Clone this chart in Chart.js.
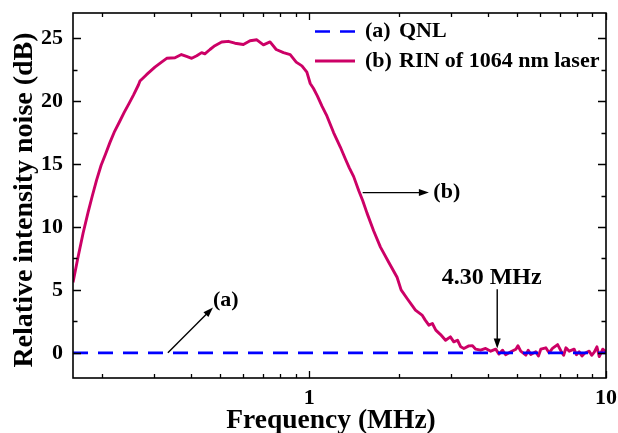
<!DOCTYPE html>
<html>
<head>
<meta charset="utf-8">
<script src="https://cdn.jsdelivr.net/npm/chart.js@4/dist/chart.umd.min.js"></script>
<style>
  html, body { margin: 0; padding: 0; background: #ffffff; }
  #wrap { width: 618px; height: 433px; }
</style>
</head>
<body>
<div id="wrap"><canvas id="c" width="618" height="433"></canvas></div>
<script>
// Measured relative intensity noise of the 1064 nm laser
const freqMHz = [
  0.160, 0.166, 0.173, 0.180, 0.186, 0.192, 0.199, 0.206, 0.213, 0.221,
  0.230, 0.238, 0.247, 0.256, 0.266, 0.269, 0.283, 0.302, 0.318, 0.331,
  0.353, 0.371, 0.386, 0.402, 0.418, 0.434, 0.445, 0.463, 0.481, 0.507,
  0.534, 0.562, 0.600, 0.632, 0.666, 0.701, 0.738, 0.774, 0.819, 0.863,
  0.904, 0.945, 0.982, 1.008, 1.034, 1.066, 1.104, 1.148, 1.208, 1.273,
  1.324, 1.365, 1.412, 1.468, 1.514, 1.566, 1.648, 1.738, 1.853, 1.977,
  2.040, 2.140, 2.280, 2.400, 2.460, 2.530, 2.600, 2.670, 2.770, 2.880,
  2.990, 3.070, 3.160, 3.240, 3.320, 3.450, 3.550, 3.640, 3.780, 3.930,
  4.090, 4.250, 4.360, 4.480, 4.590, 4.780, 4.970, 5.050, 5.160, 5.370,
  5.470, 5.580, 5.800, 5.920, 6.030, 6.270, 6.430, 6.600, 6.870, 7.050,
  7.200, 7.330, 7.520, 7.810, 7.950, 8.120, 8.300, 8.450, 8.780, 8.950,
  9.130, 9.320, 9.490, 9.750, 10.00
];
const rinDb = [
  5.6, 7.5, 9.5, 11.2, 12.5, 13.7, 14.9, 15.8, 16.7, 17.6,
  18.4, 19.1, 19.8, 20.5, 21.3, 21.6, 22.1, 22.7, 23.1, 23.4,
  23.45, 23.7, 23.55, 23.4, 23.6, 23.85, 23.75, 24.1, 24.4, 24.7,
  24.75, 24.6, 24.5, 24.8, 24.87, 24.47, 24.7, 24.1, 23.85, 23.7,
  23.1, 22.8, 22.3, 21.4, 21.0, 20.4, 19.6, 18.8, 17.5, 16.35,
  15.4, 14.7, 14.0, 12.9, 12.1, 11.1, 9.7, 8.4, 7.2, 6.0,
  5.0, 4.3, 3.4, 3.0, 2.6, 2.2, 2.33, 1.8, 1.45, 1.0,
  1.27, 0.87, 1.0, 0.48, 0.35, 0.55, 0.56, 0.29, 0.21, 0.35,
  0.13, 0.29, -0.1, 0.21, -0.15, 0.08, 0.29, 0.56, 0.13, -0.18,
  0.21, -0.13, 0.08, -0.25, 0.29, 0.4, 0.0, 0.35, 0.65, 0.15,
  -0.2, 0.4, 0.13, 0.29, -0.15, 0.08, -0.25, -0.05, 0.13, -0.2,
  0.05, 0.48, -0.3, 0.29, 0.08
];

// Quantum noise limit reference
const qnlFreq = [0.16, 10];
const qnlDb = [0, 0];

// Axis ticks
const xTickValues = [1, 10];
const xMinorValues = [0.2, 0.3, 0.4, 0.5, 0.6, 0.7, 0.8, 0.9, 2, 3, 4, 5, 6, 7, 8, 9];
const yTickValues = [0, 5, 10, 15, 20, 25];
const yMinorValues = [2.5, 7.5, 12.5, 17.5, 22.5];

const seriesLabels = ['(a)', '(b)'];
const seriesNames = ['QNL', 'RIN of 1064 nm laser'];

// Callouts, in data units (MHz, dB)
const calloutA = { text: '(a)', from: [0.334, 0], to: [0.474, 3.6], at: [0.474, 4.2] };
const calloutB = { text: '(b)', from: [1.514, 12.73], to: [2.53, 12.73], at: [2.62, 12.73] };
const calloutF = { text: '4.30 MHz', from: [4.30, 5.05], to: [4.30, 0.35], at: [4.12, 5.93] };

const SERIF = "'Liberation Serif', 'Times New Roman', serif";
const BLUE = '#0000ff';
const MAGENTA = '#cc0066';

Chart.defaults.font.family = SERIF;
Chart.defaults.font.weight = 'bold';
Chart.defaults.color = '#000000';

function drawArrow(ctx, x1, y1, x2, y2) {
  const ang = Math.atan2(y2 - y1, x2 - x1);
  const len = 10, half = 3.5;
  ctx.beginPath();
  ctx.moveTo(x1, y1);
  ctx.lineTo(x2 - Math.cos(ang) * len * 0.8, y2 - Math.sin(ang) * len * 0.8);
  ctx.stroke();
  ctx.beginPath();
  ctx.moveTo(x2, y2);
  ctx.lineTo(x2 - Math.cos(ang) * len - Math.sin(ang) * half, y2 - Math.sin(ang) * len + Math.cos(ang) * half);
  ctx.lineTo(x2 - Math.cos(ang) * len + Math.sin(ang) * half, y2 - Math.sin(ang) * len - Math.cos(ang) * half);
  ctx.closePath();
  ctx.fill();
}

function noScalePadding(s) {
  s.paddingTop = 0; s.paddingBottom = 0; s.paddingLeft = 0; s.paddingRight = 0;
}

const framePlugin = {
  id: 'frame',
  afterDatasetsDraw(chart) {
    const { ctx, chartArea: a, scales: { x, y } } = chart;
    ctx.save();
    ctx.strokeStyle = '#000';
    ctx.fillStyle = '#000';
    ctx.lineWidth = 1.6;
    ctx.strokeRect(a.left, a.top, a.right - a.left, a.bottom - a.top);

    // inward ticks on all four sides
    ctx.lineWidth = 1.3;
    ctx.beginPath();
    const yt = (vals, len) => vals.forEach(v => {
      const py = Math.round(y.getPixelForValue(v)) + 0.5;
      ctx.moveTo(a.left, py); ctx.lineTo(a.left + len, py);
      ctx.moveTo(a.right, py); ctx.lineTo(a.right - len, py);
    });
    const xt = (vals, len) => vals.forEach(v => {
      const px = Math.round(x.getPixelForValue(v)) + 0.5;
      ctx.moveTo(px, a.bottom); ctx.lineTo(px, a.bottom - len);
      ctx.moveTo(px, a.top); ctx.lineTo(px, a.top + len);
    });
    yt(yTickValues, 8); yt(yMinorValues, 4.5);
    xt(xTickValues, 7); xt(xMinorValues, 4);
    ctx.stroke();

    // callouts
    ctx.lineWidth = 1.4;
    ctx.font = 'bold 22px ' + SERIF;
    ctx.textBaseline = 'middle';
    [calloutA, calloutB].forEach(c => {
      drawArrow(ctx, x.getPixelForValue(c.from[0]), y.getPixelForValue(c.from[1]),
        x.getPixelForValue(c.to[0]), y.getPixelForValue(c.to[1]));
      ctx.textAlign = 'left';
      ctx.fillText(c.text, x.getPixelForValue(c.at[0]), y.getPixelForValue(c.at[1]));
    });
    drawArrow(ctx, x.getPixelForValue(calloutF.from[0]), y.getPixelForValue(calloutF.from[1]),
      x.getPixelForValue(calloutF.to[0]), y.getPixelForValue(calloutF.to[1]));
    ctx.textAlign = 'center';
    ctx.font = 'bold 24px ' + SERIF;
    ctx.fillText(calloutF.text, x.getPixelForValue(calloutF.at[0]), y.getPixelForValue(calloutF.at[1]));

    // legend
    ctx.font = 'bold 22px ' + SERIF;
    const ds = chart.data.datasets;
    const rows = [31.5, 61];
    ds.forEach((d, i) => {
      ctx.save();
      ctx.strokeStyle = d.borderColor;
      ctx.lineWidth = d.borderWidth;
      ctx.setLineDash(d.borderDash || []);
      ctx.beginPath();
      ctx.moveTo(315, rows[i]); ctx.lineTo(355, rows[i]);
      ctx.stroke();
      ctx.restore();
      ctx.textAlign = 'left';
      ctx.fillText(seriesLabels[i], 365, rows[i]);
      ctx.fillText(seriesNames[i], 399, rows[i]);
    });

    // axis titles
    ctx.textBaseline = 'alphabetic';
    ctx.textAlign = 'center';
    ctx.font = 'bold 27.5px ' + SERIF;
    ctx.fillText('Frequency (MHz)', 331, 428);
    ctx.save();
    ctx.translate(32, 200);
    ctx.rotate(-Math.PI / 2);
    ctx.font = 'bold 28px ' + SERIF;
    ctx.fillText('Relative intensity noise (dB)', 0, 0);
    ctx.restore();
    ctx.restore();
  }
};

new Chart(document.getElementById('c'), {
  type: 'line',
  data: {
    datasets: [
      {
        label: seriesLabels[0] + ' ' + seriesNames[0],
        data: qnlFreq.map((f, i) => ({ x: f, y: qnlDb[i] })),
        borderColor: BLUE,
        borderWidth: 2.7,
        borderDash: [15, 10],
        pointRadius: 0,
        tension: 0
      },
      {
        label: seriesLabels[1] + ' ' + seriesNames[1],
        data: freqMHz.map((f, i) => ({ x: f, y: rinDb[i] })),
        borderColor: MAGENTA,
        borderWidth: 2.9,
        pointRadius: 0,
        tension: 0,
        borderJoinStyle: 'round'
      }
    ]
  },
  options: {
    responsive: false,
    animation: false,
    devicePixelRatio: 1,
    layout: { padding: { top: 13, right: 12, left: 0, bottom: 0 } },
    plugins: { legend: { display: false }, tooltip: { enabled: false } },
    scales: {
      x: {
        type: 'logarithmic',
        min: 0.16,
        max: 10,
        grid: { display: false, drawTicks: false },
        border: { display: false },
        afterBuildTicks: s => { s.ticks = xTickValues.map(v => ({ value: v })); },
        afterFit: s => { s.height = 55; noScalePadding(s); },
        ticks: {
          autoSkip: false, maxRotation: 0, padding: 7,
          font: { size: 22, weight: 'bold' },
          callback: v => String(v)
        }
      },
      y: {
        type: 'linear',
        min: -2,
        max: 27,
        grid: { display: false, drawTicks: false },
        border: { display: false },
        afterBuildTicks: s => { s.ticks = yTickValues.map(v => ({ value: v })); },
        afterFit: s => { s.width = 73; noScalePadding(s); },
        ticks: {
          padding: 10,
          font: { size: 22, weight: 'bold' },
          callback: v => String(v)
        }
      }
    }
  },
  plugins: [framePlugin]
});
</script>
</body>
</html>
